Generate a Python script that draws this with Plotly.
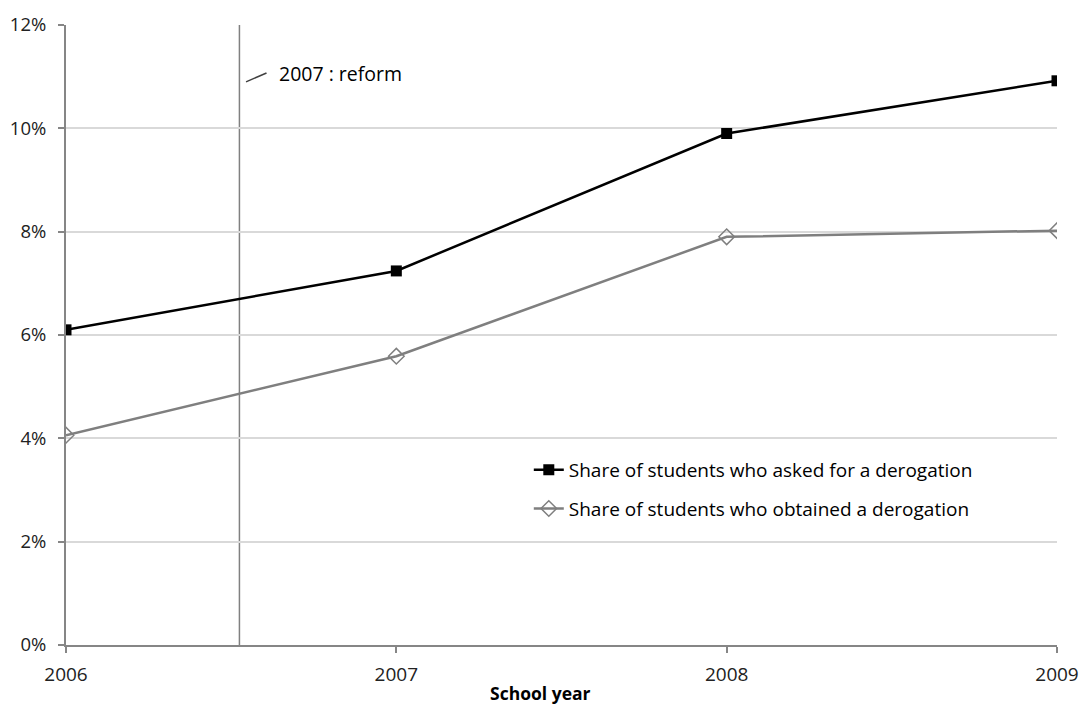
import plotly.graph_objects as go

years = [2006, 2007, 2008, 2009]
asked = [6.1, 7.24, 9.9, 10.92]
obtained = [4.06, 5.59, 7.9, 8.02]
asked_name = "Share of students who asked for a derogation"
obtained_name = "Share of students who obtained a derogation"
y_ticks = [0, 2, 4, 6, 8, 10, 12]
y_tick_labels = ["0%", "2%", "4%", "6%", "8%", "10%", "12%"]
reform_x = 2006.525
reform_label = "2007 : reform"
x_title = "School year"

FONT = "Open Sans"

fig = go.Figure()
fig.add_trace(go.Scatter(
    x=years, y=asked, name=asked_name, mode="lines+markers", legendgroup="a",
    line=dict(color="#000000", width=2.5),
    marker=dict(symbol="square", size=11, color="#000000"),
))
fig.add_trace(go.Scatter(
    x=years, y=obtained, name=obtained_name, mode="lines+markers", legendgroup="b",
    line=dict(color="#7f7f7f", width=2.5),
    marker=dict(symbol="diamond-open", size=12, color="#7f7f7f",
                line=dict(width=1.5, color="#7f7f7f")),
))

# reform vertical line
fig.add_shape(type="line", x0=reform_x, x1=reform_x, y0=0, y1=12,
              xref="x", yref="y", line=dict(color="#808080", width=1.5),
              layer="below")
# small leader dash
fig.add_shape(type="line", x0=2006.545, x1=2006.607, y0=10.9, y1=11.07,
              xref="x", yref="y", line=dict(color="#404040", width=1.5))
fig.add_annotation(x=2006.64, y=11.07, xref="x", yref="y", text=reform_label,
                   showarrow=False, xanchor="left", yanchor="middle",
                   font=dict(family=FONT, size=19.5, color="#000000"))
fig.add_annotation(x=0.479, y=-0.055, xref="paper", yref="paper", text="<b>" + x_title + "</b>",
                   showarrow=False, xanchor="center", yanchor="top",
                   font=dict(family=FONT, size=17.5, color="#000000"))

fig.update_layout(
    width=1079, height=704,
    margin=dict(l=66, r=22, t=25, b=59, autoexpand=False),
    plot_bgcolor="white", paper_bgcolor="white",
    font=dict(family=FONT, size=18, color="#222222"),
    showlegend=True,
    legend=dict(x=0.467, y=0.313, xanchor="left", yanchor="top",
                bgcolor="rgba(0,0,0,0)", font=dict(family=FONT, size=19, color="#000000"),
                itemwidth=30, tracegroupgap=11),
    xaxis=dict(range=[2006, 2009], tickvals=years, ticktext=[str(y) for y in years],
               showgrid=False, showline=True, linecolor="#868686", linewidth=2,
               ticks="outside", ticklen=6, tickcolor="#868686", tickwidth=2,
               ticklabelstandoff=5, automargin=False,
               zeroline=False, tickfont=dict(size=19, color="#222222")),
    yaxis=dict(range=[0, 12], tickvals=y_ticks, ticktext=y_tick_labels,
               showgrid=True, gridcolor="#d9d9d9", gridwidth=1.5,
               showline=True, linecolor="#868686", linewidth=2,
               ticks="outside", ticklen=6, tickcolor="#868686", tickwidth=2,
               ticklabelstandoff=8, automargin=False,
               zeroline=False, tickfont=dict(size=18.5, color="#222222")),
)

fig.write_html("out.html", config={"displayModeBar": False},
               post_script="document.body.style.margin='0px';")
